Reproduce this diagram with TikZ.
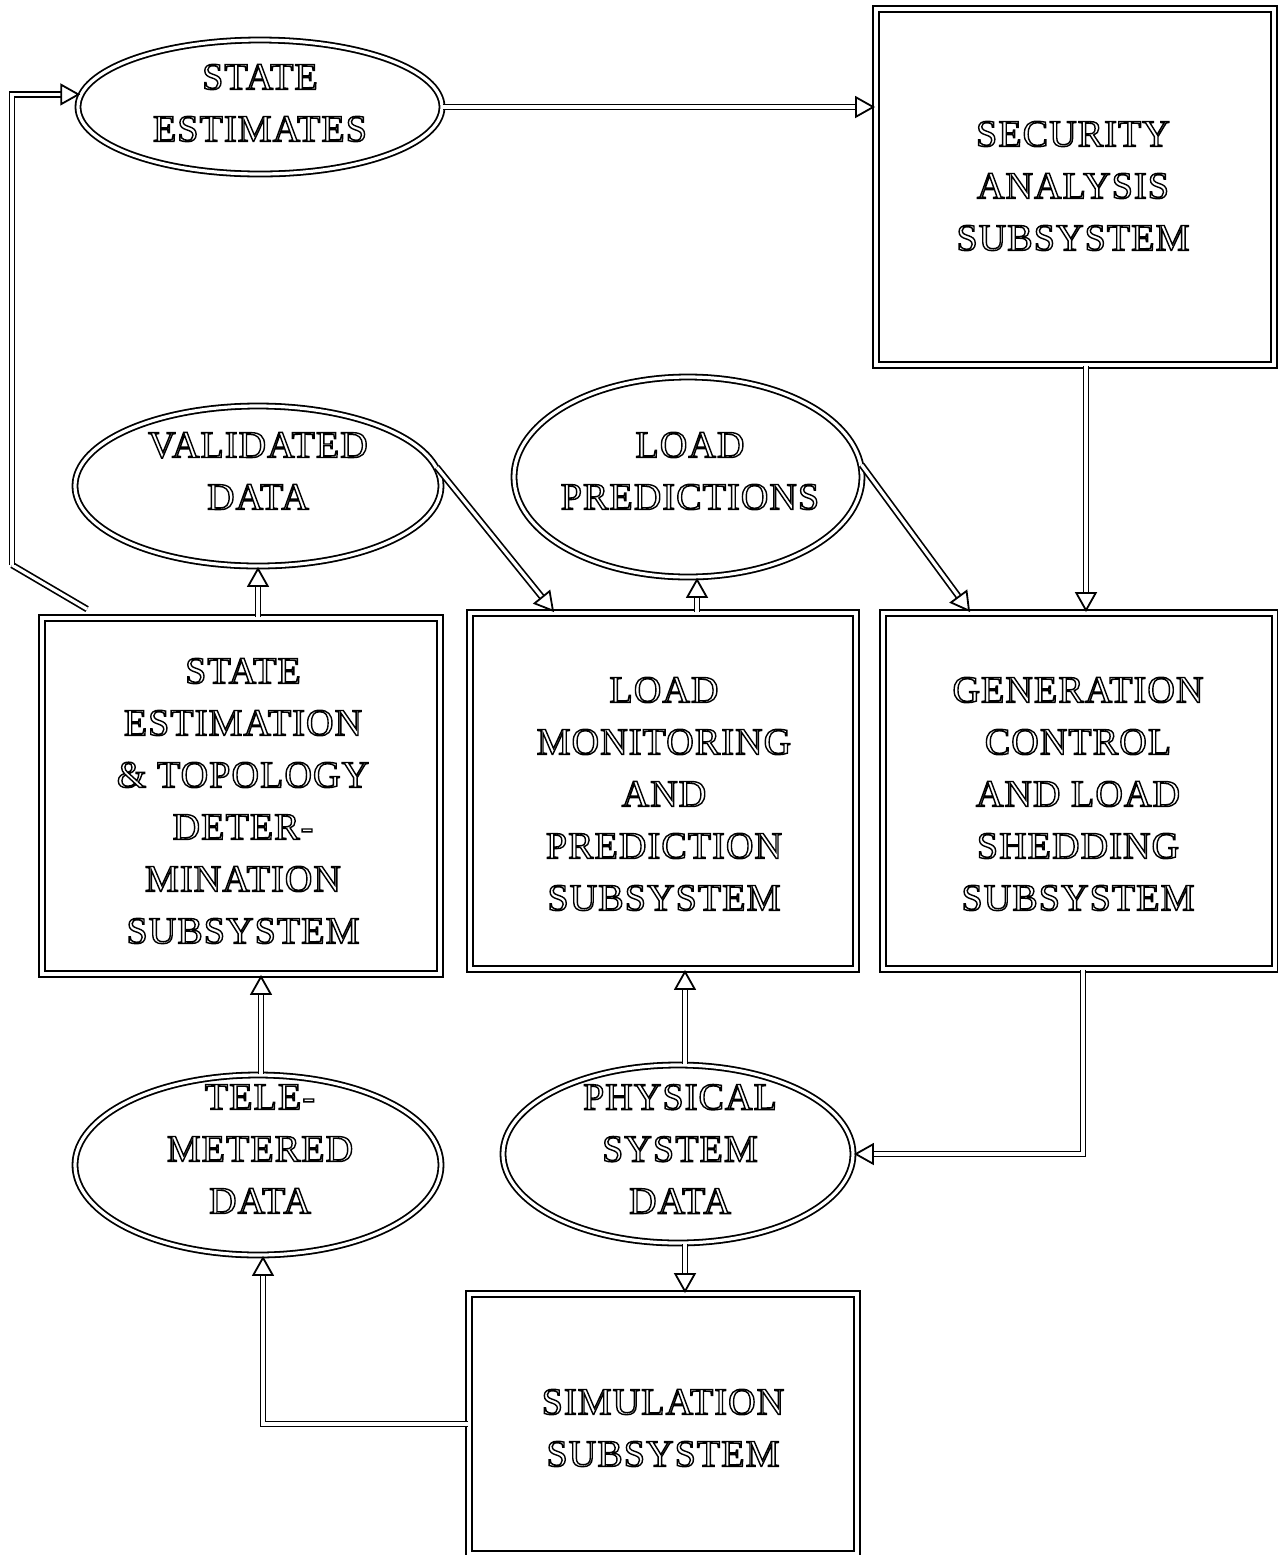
\documentclass[tikz,border=0pt]{standalone}
\usepackage{fontspec}
\setmainfont{Liberation Serif}[LetterSpace=3]
\usetikzlibrary{arrows.meta,shapes.geometric,calc}

% hollow (outlined) capitals
\newcommand\hollow[1]{\special{pdf:literal direct 1 Tr 0.7 w}#1\special{pdf:literal direct 0 Tr}}

\tikzset{
  lbl/.style={align=center, inner sep=0pt, font=\fontsize{19}{26}\selectfont},
  box/.style={draw, rectangle, double, double distance=2.2pt, line width=0.9pt, inner sep=0pt},
  blob/.style={draw, ellipse, double, double distance=1.6pt, line width=0.9pt, inner sep=0pt},
  flow/.style={double, double distance=1.6pt, line width=0.85pt,
    -{Triangle[open, length=10pt, width=11pt, line width=0.9pt]}},
  plain/.style={double, double distance=1.6pt, line width=0.85pt}
}

\begin{document}
\begin{tikzpicture}[x=0.5pt, y=-0.5pt]
\useasboundingbox (0,0) rectangle (1278,1555);
\fill[white] (0,0) rectangle (1278,1555);

% ---- shapes ----
\node[blob, minimum width=182pt, minimum height=67pt] (se) at (260,107) {};
\node[lbl] (setext) at (260,103) {\hollow{STATE}\\\hollow{ESTIMATES}};

\node[box, minimum width=199pt, minimum height=178pt] (sas) at (1075,187) {};
\node[lbl] (sastext) at (1073,186) {\hollow{SECURITY}\\\hollow{ANALYSIS}\\\hollow{SUBSYSTEM}};

\node[blob, minimum width=183pt, minimum height=80pt] (vd) at (258,486) {};
\node[lbl] (vdtext) at (258,471) {\hollow{VALIDATED}\\\hollow{DATA}};

\node[blob, minimum width=174pt, minimum height=100pt] (lp) at (688,477) {};
\node[lbl] (lptext) at (690,471) {\hollow{LOAD}\\\hollow{PREDICTIONS}};

\node[box, minimum width=199pt, minimum height=178pt] (sets) at (241,796) {};
\node[lbl] (setstext) at (243,801) {\hollow{STATE}\\\hollow{ESTIMATION}\\\hollow{\& TOPOLOGY}\\\hollow{DETER-}\\\hollow{MINATION}\\\hollow{SUBSYSTEM}};

\node[box, minimum width=193pt, minimum height=178pt] (lmp) at (663,791) {};
\node[lbl] (lmptext) at (664,794) {\hollow{LOAD}\\\hollow{MONITORING}\\\hollow{AND}\\\hollow{PREDICTION}\\\hollow{SUBSYSTEM}};

\node[box, minimum width=196pt, minimum height=178pt] (gcls) at (1079,791) {};
\node[lbl] (gclstext) at (1078,794) {\hollow{GENERATION}\\\hollow{CONTROL}\\\hollow{AND LOAD}\\\hollow{SHEDDING}\\\hollow{SUBSYSTEM}};

\node[blob, minimum width=183pt, minimum height=90pt] (tmd) at (258,1165) {};
\node[lbl] (tmdtext) at (260,1149) {\hollow{TELE-}\\\hollow{METERED}\\\hollow{DATA}};

\node[blob, minimum width=175pt, minimum height=89pt] (psd) at (678,1154) {};
\node[lbl] (psdtext) at (680,1149) {\hollow{PHYSICAL}\\\hollow{SYSTEM}\\\hollow{DATA}};

\node[box, minimum width=194pt, minimum height=130pt] (sim) at (663,1424) {};
\node[lbl] (simtext) at (663,1428) {\hollow{SIMULATION}\\\hollow{SUBSYSTEM}};

% ---- connectors ----
\coordinate (loopstart) at ($(sets.north west)+(46,-8)$);
\coordinate (loopbend) at (12,565);
\draw[plain] (loopstart) -- (loopbend);
\draw[flow] (loopbend) |- (se.176);

\draw[flow] (se.east) -- (se.east -| sas.west);

\coordinate (sasout) at ($(sas.south)+(11,0)$);
\draw[flow] (sasout) -- (sasout |- gcls.north);

\coordinate (vdhit) at ($(lmp.north west)+(85,0)$);
\draw[flow] (vd.6) -- (vdhit);

\coordinate (lphit) at ($(gcls.north west)+(88,0)$);
\draw[flow] (lp.4) -- (lphit);

\coordinate (lmpout) at ($(lmp.north)+(34,0)$);
\draw[flow] (lmpout) -- (lmpout |- lp.south);

\draw[flow] (vd.south |- sets.north) -- (vd.south);

\coordinate (tmdout) at ($(tmd.north)+(3,0)$);
\draw[flow] (tmdout) -- (tmdout |- sets.south);

\coordinate (psdout) at ($(psd.north)+(7,0)$);
\draw[flow] (psdout) -- (psdout |- lmp.south);

\coordinate (gclsout) at ($(gcls.south)+(4,0)$);
\draw[flow] (gclsout) |- (psd.east);

\coordinate (psddown) at ($(psd.south)+(7,0)$);
\draw[flow] (psddown) -- (psddown |- sim.north);

\coordinate (tmdin) at ($(tmd.south)+(5,0)$);
\draw[flow] (sim.west) -| (tmdin);

\end{tikzpicture}
\end{document}
